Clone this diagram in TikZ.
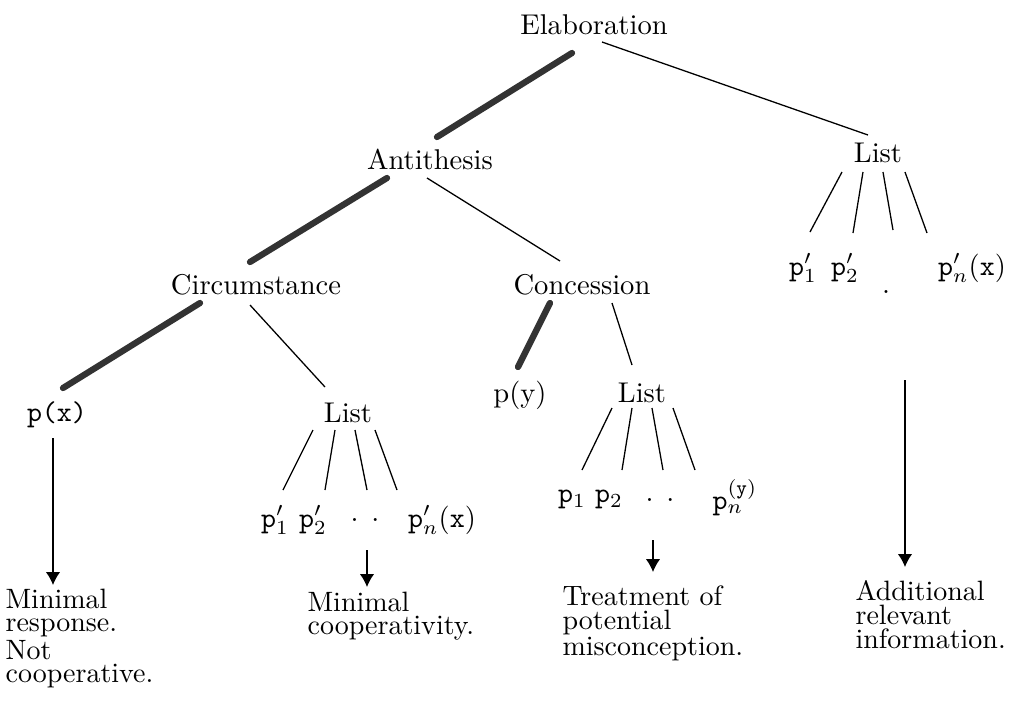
\documentclass[tikz,border=0pt]{standalone}
\usetikzlibrary{arrows.meta, positioning}

\begin{document}
\begin{tikzpicture}[
x=0.35pt, y=-0.35pt,
relnode/.style={inner sep=0pt},
item/.style={inner sep=0pt},
note/.style={inner sep=0pt, align=left, anchor=north west, font=\fontsize{9.8}{8.3}\selectfont},
link/.style={line width=0.45pt},
heavy/.style={line width=2.2pt, line cap=round, black!80},
arrow/.style={-{Latex[length=4.5pt, width=5pt]}, line width=0.45pt}
]
\useasboundingbox (0,0) rectangle (1024,701);

% relations
\node[relnode] (elab) at (594,25) {Elaboration};
\node[relnode] (anti) at (430,159) {Antithesis};
\node[relnode] (rlist) at (878,153) {List};
\node[relnode] (circ) at (256,285) {Circumstance};
\node[relnode] (conc) at (582,285) {Concession};
\node[relnode] (clist) at (348,413) {List};
\node[relnode] (klist) at (642,393) {List};

% propositions
\node[item] (px) at (57,415) {\texttt{p(x)}};
\node[item] (py) at (520,395) {p(y)};
\node[item] (cp1) at (275,520) {$\mathtt{p}'_1$};
\node[item] (cp2) at (313,520) {$\mathtt{p}'_2$};
\node[item] (cdots) at (365,520) {. .};
\node[item] (cpn) at (442,520) {$\mathtt{p}'_n\mathtt{(x)}$};
\node[item] (kp1) at (572,500) {$\mathtt{p}_1$};
\node[item] (kp2) at (609,500) {$\mathtt{p}_2$};
\node[item] (kdots) at (660,500) {. .};
\node[item] (kpn) at (735,498) {$\mathtt{p}_n^{\mathtt{(y)}}$};
\node[item] (rp1) at (803,268) {$\mathtt{p}'_1$};
\node[item] (rp2) at (845,268) {$\mathtt{p}'_2$};
\node[item] (rdot) at (886,292) {.};
\node[item] (rpn) at (972,268) {$\mathtt{p}'_n\mathtt{(x)}$};

% comments
\node[note] (tmin) at (5,588) {Minimal\\response.\\Not\\cooperative.};
\node[note] (tcoop) at (307,591) {Minimal\\cooperativity.};
\node[note] (ttreat) at (562,585) {Treatment of\\potential\\misconception.};
\node[note] (tadd) at (855,580) {Additional\\relevant\\information.};

% tree
\draw[heavy] ([shift={(-22,28)}]elab.center) -- ([shift={(7,-22)}]anti.center);
\draw[link] ([shift={(8,17)}]elab.center) -- ([shift={(-10,-18)}]rlist.center);
\draw[heavy] ([shift={(-43,19)}]anti.center) -- ([shift={(-6,-23)}]circ.center);
\draw[link] ([shift={(-3,19)}]anti.center) -- ([shift={(-22,-24)}]conc.center);
\draw[heavy] ([shift={(-56,18)}]circ.center) -- ([shift={(6,-27)}]px.center);
\draw[link] ([shift={(-6,20)}]circ.center) -- ([shift={(-23,-26)}]clist.center);
\draw[heavy] ([shift={(-32,18)}]conc.center) -- ([shift={(-2,-28)}]py.center);
\draw[link] ([shift={(30,18)}]conc.center) -- ([shift={(-10,-28)}]klist.center);

\draw[link] ([shift={(-36,19)}]rlist.center) -- ([shift={(7,-36)}]rp1.center);
\draw[link] ([shift={(-15,19)}]rlist.center) -- ([shift={(8,-35)}]rp2.center);
\draw[link] ([shift={(5,19)}]rlist.center) -- ([shift={(7,-62)}]rdot.center);
\draw[link] ([shift={(27,19)}]rlist.center) -- ([shift={(-45,-35)}]rpn.center);

\draw[link] ([shift={(-35,17)}]clist.center) -- ([shift={(8,-30)}]cp1.center);
\draw[link] ([shift={(-13,17)}]clist.center) -- ([shift={(12,-30)}]cp2.center);
\draw[link] ([shift={(7,17)}]clist.center) -- ([shift={(2,-30)}]cdots.center);
\draw[link] ([shift={(27,17)}]clist.center) -- ([shift={(-45,-30)}]cpn.center);

\draw[link] ([shift={(-30,15)}]klist.center) -- ([shift={(10,-30)}]kp1.center);
\draw[link] ([shift={(-10,15)}]klist.center) -- ([shift={(13,-30)}]kp2.center);
\draw[link] ([shift={(10,15)}]klist.center) -- ([shift={(3,-30)}]kdots.center);
\draw[link] ([shift={(31,15)}]klist.center) -- ([shift={(-40,-28)}]kpn.center);

% arrows to comments
\draw[arrow] ([shift={(-4,23)}]px.center) -- ([shift={(48,-3)}]tmin.north west);
\draw[arrow] ([shift={(2,30)}]cdots.center) -- ([shift={(60,-4)}]tcoop.north west);
\draw[arrow] ([shift={(-7,40)}]kdots.center) -- ([shift={(91,-13)}]ttreat.north west);
\draw[arrow] ([shift={(19,88)}]rdot.center) -- ([shift={(50,-13)}]tadd.north west);

\end{tikzpicture}
\end{document}
